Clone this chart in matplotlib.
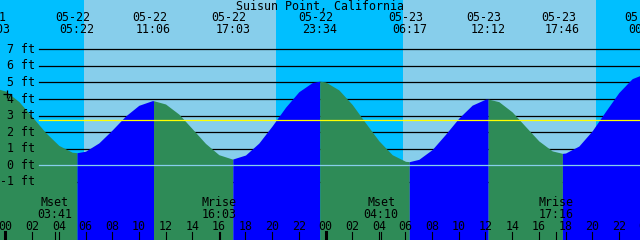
import matplotlib
matplotlib.use("Agg")
import matplotlib.pyplot as plt
from matplotlib.transforms import blended_transform_factory

# --- data ------------------------------------------------------------------
station = "Suisun Point, California"

# high / low tide events (date, time, height in ft)
tide_dates = ["05-21", "05-22", "05-22", "05-22", "05-22", "05-23", "05-23", "05-23", "05-24"]
tide_times = ["23:03", "05:22", "11:06", "17:03", "23:34", "06:17", "12:12", "17:46", "00:03"]
tide_ft = [4.7, 0.76, 3.9, 0.38, 5.08, 0.22, 4.0, 0.72, 5.55]

# water level on the hour, hours counted from 05-22 00:00
hours = list(range(0, 49))
level_ft = [4.48, 3.85, 2.93, 1.98, 1.20, 0.79, 0.85, 1.35, 2.13, 2.97, 3.62, 3.90,
            3.70, 3.09, 2.21, 1.32, 0.64, 0.38, 0.62, 1.34, 2.38, 3.50, 4.44, 4.99,
            5.03, 4.55, 3.67, 2.56, 1.48, 0.64, 0.24, 0.36, 0.95, 1.87, 2.85, 3.63,
            3.99, 3.84, 3.22, 2.34, 1.47, 0.87, 0.74, 1.16, 2.08, 3.25, 4.39, 5.23, 5.55]

mean_level_ft = 2.72
ft_levels = [-1, 0, 1, 2, 3, 4, 5, 6, 7]

sunrise = [("05-22", "05:53"), ("05-23", "05:50")]
sunset = [("05-22", "20:17"), ("05-23", "20:18")]

moon_events = ["Mset", "Mrise", "Mset", "Mrise"]
moon_dates = ["05-22", "05-22", "05-23", "05-23"]
moon_times = ["03:41", "16:03", "04:10", "17:16"]

now_hour, now_ft = 0.15, 4.3

# --- colours ----------------------------------------------------------------
NIGHT = "#00BFFF"
DAY = "#87CEEB"
EBB = "#2E8B57"
FLOOD = "#0000FF"


def to_hours(date, time):
    hh, mm = time.split(":")
    return (int(date[3:]) - 22) * 24 + int(hh) + int(mm) / 60


W, H = 640, 240
X0, PX_PER_HOUR = 5.5, 320 / 24
Y0, PX_PER_FT = 165.3, 16.57

fig = plt.figure(figsize=(W / 100, H / 100), dpi=100, facecolor=NIGHT)
ax = fig.add_axes([0, 0, 1, 1])
ax.set_facecolor(NIGHT)
ax.set_xlim(-X0 / PX_PER_HOUR, (W - X0) / PX_PER_HOUR)
ax.set_ylim((Y0 - H) / PX_PER_FT, Y0 / PX_PER_FT)
ax.set_xticks([])
ax.set_yticks([])
for s in ax.spines.values():
    s.set_visible(False)

font = dict(family="DejaVu Sans Mono", fontsize=8.4, color="black", zorder=5)
xt = blended_transform_factory(ax.transData, ax.transAxes)
yt = blended_transform_factory(ax.transAxes, ax.transData)


def fy(py):
    return 1 - py / H


# daylight
for (d1, t1), (d2, t2) in zip(sunrise, sunset):
    ax.axvspan(to_hours(d1, t1), to_hours(d2, t2), color=DAY, lw=0, zorder=0)

# height grid (behind water)
for lv in ft_levels:
    if lv != 0:
        ax.axhline(lv, xmin=39 / W, xmax=1, color="black", lw=0.9, zorder=1)

# water, green while falling, blue while rising
tide_hours = [to_hours(d, t) for d, t in zip(tide_dates, tide_times)]
pts = sorted(zip(hours + tide_hours, level_ft + tide_ft))
bottom = ax.get_ylim()[0] - 1
for i in range(len(tide_hours) - 1):
    a, b = tide_hours[i], tide_hours[i + 1]
    seg = [(t, h) for t, h in pts if a <= t <= b]
    col = EBB if tide_ft[i + 1] < tide_ft[i] else FLOOD
    ax.fill_between([p[0] for p in seg], [p[1] for p in seg], bottom,
                    color=col, lw=0, zorder=2)

ax.axhline(0, xmin=39 / W, xmax=1, color=DAY, lw=0.9, zorder=3)
ax.axhline(mean_level_ft, xmin=39 / W, xmax=1, color="yellow", lw=0.9, zorder=3)
ax.plot(now_hour, now_ft, marker="+", ms=6, mew=0.9, color="black", zorder=4)

for lv in ft_levels:
    ax.text(35 / W, lv, f"{lv} ft", transform=yt, ha="right", va="center", **font)

# header: title and tide times
ax.text(0.5, fy(6), station, transform=ax.transAxes, ha="center", va="center", **font)
for d, t, th in zip(tide_dates, tide_times, tide_hours):
    ax.text(th - 4 / PX_PER_HOUR, fy(17.5), d, transform=xt, ha="center", va="center", **font)
    ax.text(th, fy(29.7), t, transform=xt, ha="center", va="center", **font)

# moon events
for ev, d, t in zip(moon_events, moon_dates, moon_times):
    mh = to_hours(d, t)
    ax.text(mh, fy(202), ev, transform=xt, ha="center", va="center", **font)
    ax.text(mh, fy(214), t, transform=xt, ha="center", va="center", **font)
    ax.plot([mh, mh], [0, 8 / H], transform=xt, color="black", lw=0.8, zorder=4)

# hour axis
for hr in range(0, 49, 2):
    ax.text(hr, fy(226), f"{hr % 24:02d}", transform=xt, ha="center", va="center", **font)
    ax.plot([hr, hr], [0, 8 / H], transform=xt, color="black",
            lw=2.2 if hr % 24 == 0 else 0.8, zorder=4)

fig.savefig("out.png", dpi=100, facecolor=NIGHT)
